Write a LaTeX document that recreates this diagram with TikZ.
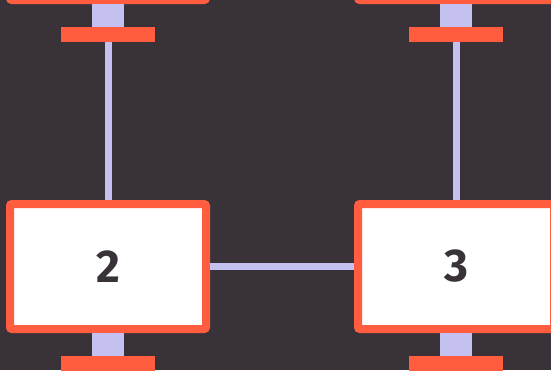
\documentclass[tikz,border=0pt]{standalone}
\usepackage{fontspec}
\setmainfont{Fira Sans}
\definecolor{bgc}{HTML}{393339}
\definecolor{orng}{HTML}{FF5C40}
\definecolor{lav}{HTML}{C4C0F0}
\begin{document}
\begin{tikzpicture}[x=1pt,y=-1pt,
  boxnode/.style={draw=orng,fill=white,line width=8pt,rounded corners=2pt,
    minimum width=196pt,minimum height=125pt,inner sep=0pt,outer sep=4pt,
    text=bgc,font=\fontsize{46}{46}\selectfont\bfseries},
  stemnode/.style={fill=lav,draw=none,minimum width=32pt,minimum height=23.5pt,inner sep=0pt,outer sep=0pt},
  barnode/.style={fill=orng,draw=none,minimum width=94pt,minimum height=15pt,inner sep=0pt,outer sep=0pt},
  wire/.style={draw=lav,line width=7pt}]
\fill[bgc] (0,0) rectangle (551,370);
\useasboundingbox (0,0) rectangle (551,370);
\begin{scope}
\clip (0,0) rectangle (551,370);
\node[boxnode] (t1) at (108,-62.5) {};
\node[boxnode] (t2) at (456,-62.5) {};
\node[boxnode] (b2) at (108,266.5) {2};
\node[boxnode] (b3) at (456,266.5) {3};
\node[stemnode] (s1) at (108,15.75) {};
\node[barnode] (r1) at (108,34.5) {};
\node[stemnode] (s2) at (456,15.75) {};
\node[barnode] (r2) at (456,34.5) {};
\node[stemnode] (s3) at (108,344.75) {};
\node[barnode] (r3) at (108,363.5) {};
\node[stemnode] (s4) at (456,344.75) {};
\node[barnode] (r4) at (456,363.5) {};
\draw[wire] (r1.south) -- (b2.north);
\draw[wire] (r2.south) -- (b3.north);
\draw[wire] (b2.east) -- (b3.west);
\end{scope}
\end{tikzpicture}
\end{document}
